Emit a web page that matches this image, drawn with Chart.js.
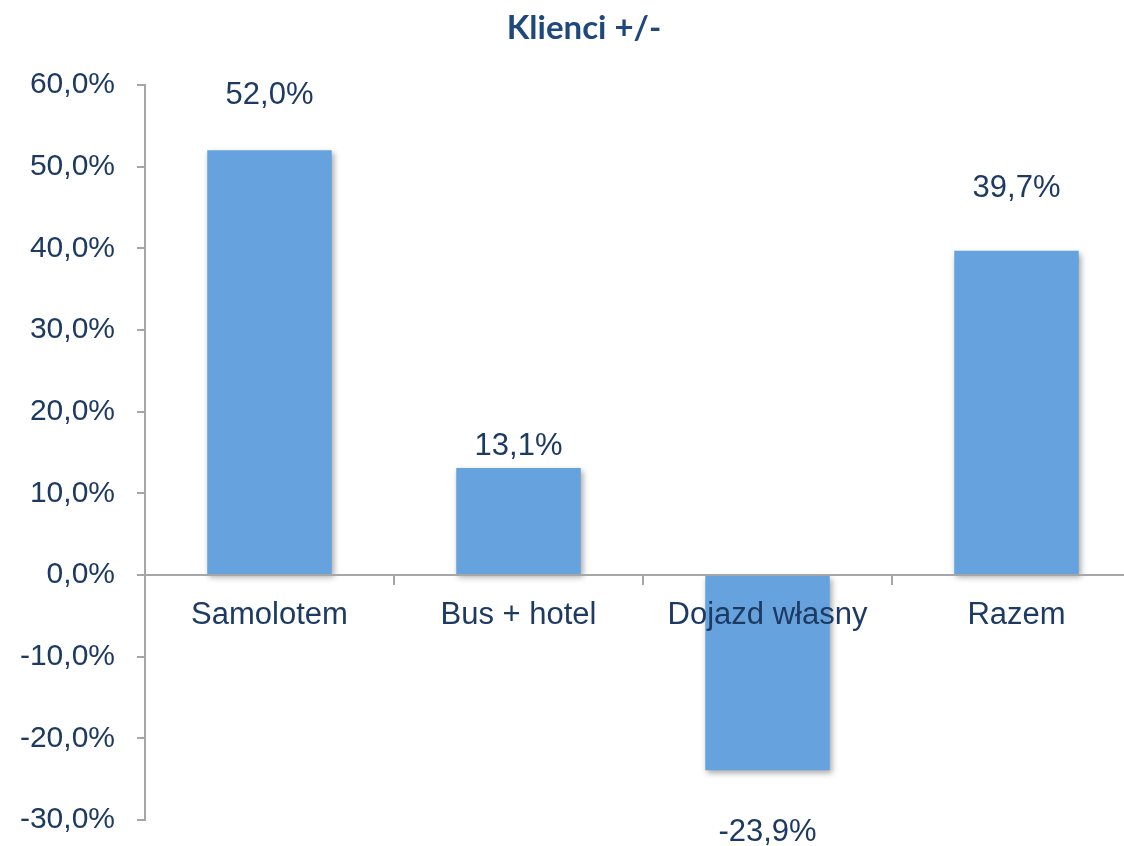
<!DOCTYPE html>
<html>
<head>
<meta charset="utf-8">
<script src="https://cdn.jsdelivr.net/npm/chart.js@4.4.1/dist/chart.umd.min.js"></script>
<style>
  html, body { margin: 0; padding: 0; background: #fff; overflow: hidden; }
  #wrap { width: 1124px; height: 846px; overflow: hidden; }
</style>
</head>
<body>
<div id="wrap"><canvas id="chart" width="1150" height="846"></canvas></div>
<script>
const categories = ['Samolotem', 'Bus + hotel', 'Dojazd własny', 'Razem'];
const clientChange = [52.0, 13.1, -23.9, 39.7];
const yTicks = [-30, -20, -10, 0, 10, 20, 30, 40, 50, 60];
const chartTitle = 'Klienci +/-';

const navy = '#1d3a62';
const axisGray = '#a6a6a6';
const sans = '"Liberation Sans", Arial, sans-serif';
const fmt = (v) => v.toFixed(1).replace('.', ',') + '%';

// distance of each value label from the end of its bar (px)
const labelGap = [55, 22, 62, 62];

const barShadow = {
  id: 'barShadow',
  beforeDatasetDraw(chart) {
    const c = chart.ctx;
    c.save();
    c.shadowColor = 'rgba(0,0,0,0.35)';
    c.shadowBlur = 6;
    c.shadowOffsetX = 2;
    c.shadowOffsetY = 3;
  },
  afterDatasetDraw(chart) { chart.ctx.restore(); }
};

const valueLabels = {
  id: 'valueLabels',
  afterDatasetsDraw(chart) {
    const c = chart.ctx;
    const meta = chart.getDatasetMeta(0);
    c.save();
    c.font = '31px ' + sans;
    c.fillStyle = navy;
    c.textAlign = 'center';
    c.textBaseline = 'middle';
    meta.data.forEach((bar, i) => {
      const v = clientChange[i];
      const y = v >= 0 ? bar.y - labelGap[i] : bar.y + labelGap[i];
      c.fillText(fmt(v), bar.x, y);
    });
    c.restore();
  }
};

// title sits a bit right of the canvas centre, like the original
const titleText = {
  id: 'titleText',
  afterDraw(chart) {
    const c = chart.ctx;
    c.save();
    c.font = 'bold 33px Lato, "Open Sans", sans-serif';
    c.fillStyle = '#1f497d';
    c.textAlign = 'center';
    c.textBaseline = 'middle';
    c.fillText(chartTitle, 584, 28);
    c.restore();
  }
};

new Chart(document.getElementById('chart'), {
  type: 'bar',
  data: {
    labels: categories,
    datasets: [{
      data: clientChange,
      backgroundColor: '#66a3de',
      borderWidth: 0,
      barPercentage: 0.5,
      categoryPercentage: 1
    }]
  },
  options: {
    responsive: false,
    animation: false,
    layout: { padding: { left: 0, top: 85, right: 9, bottom: 26 } },
    plugins: {
      legend: { display: false },
      tooltip: { enabled: false },
      title: { display: false }
    },
    scales: {
      x: {
        position: { y: 0 },
        grid: { drawOnChartArea: false, drawTicks: true, tickLength: 9, color: axisGray, lineWidth: 2, z: 1 },
        border: { color: axisGray, width: 2, z: 1 },
        ticks: { color: navy, padding: 13, z: 1, font: { family: sans, size: 31 } }
      },
      y: {
        min: -30,
        max: 60,
        afterBuildTicks: (s) => { s.ticks = yTicks.map((v) => ({ value: v })); },
        afterFit: (s) => { s.width = 145; s.paddingTop = 0; s.paddingBottom = 0; },
        grid: { drawOnChartArea: false, drawTicks: true, tickLength: 8, color: axisGray, lineWidth: 2 },
        border: { color: axisGray, width: 2 },
        ticks: {
          color: navy,
          padding: 22,
          font: { family: sans, size: 30 },
          callback: (v) => fmt(v)
        }
      }
    }
  },
  plugins: [barShadow, valueLabels, titleText]
});
</script>
</body>
</html>
